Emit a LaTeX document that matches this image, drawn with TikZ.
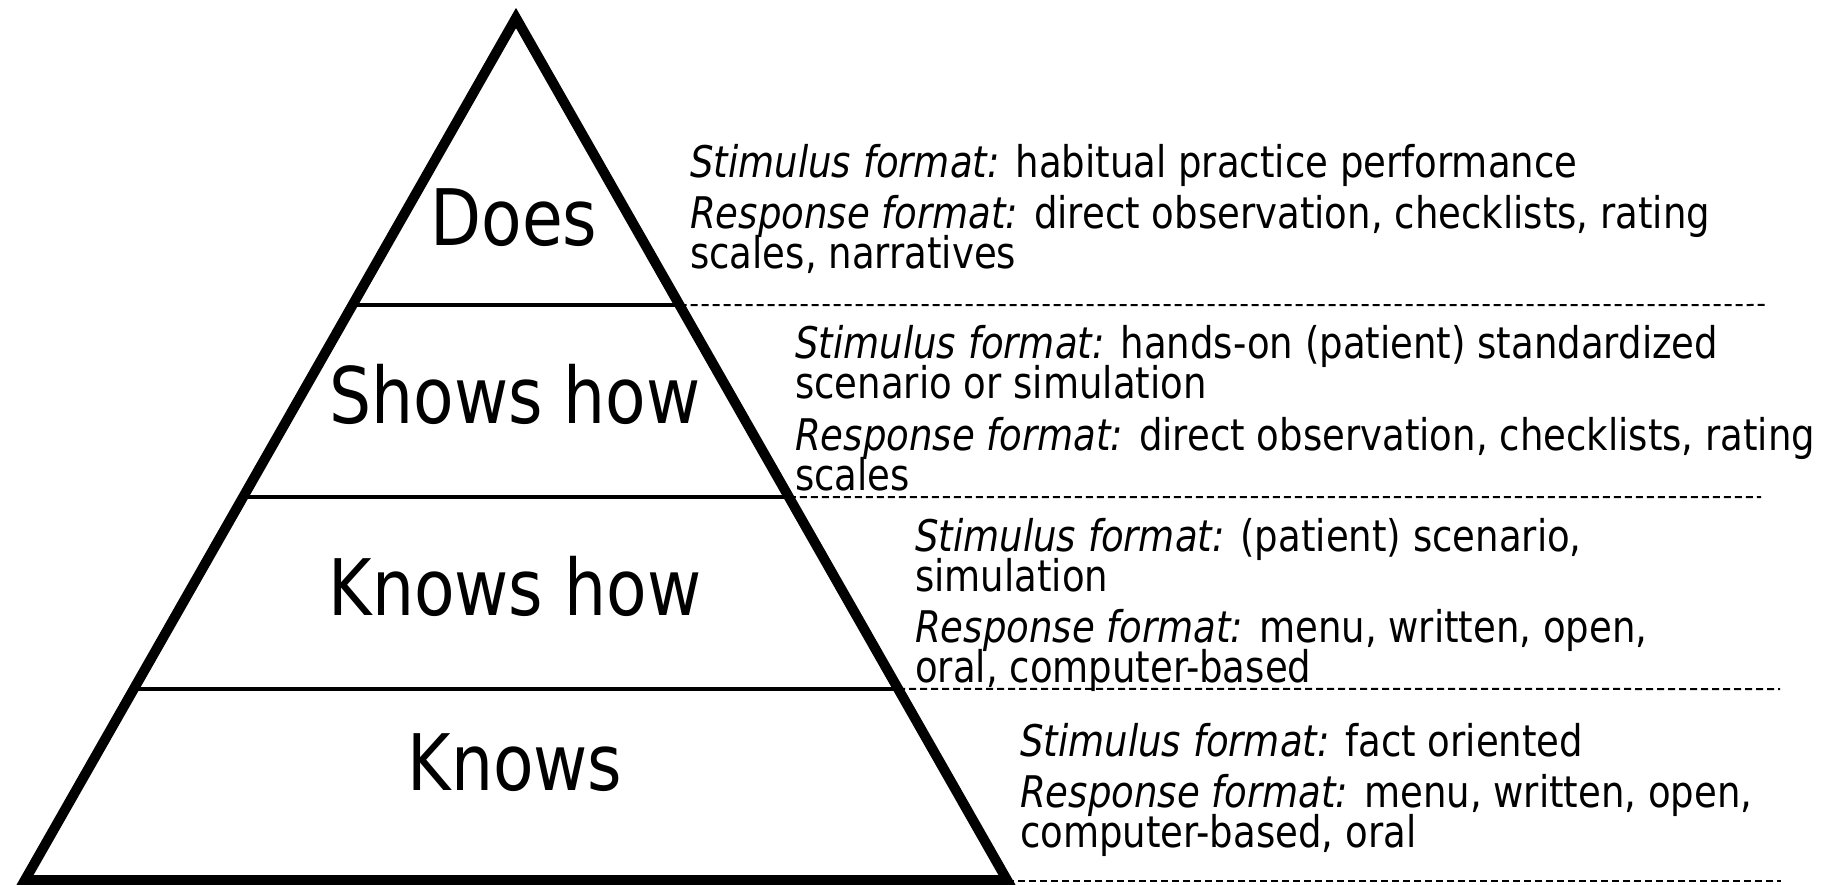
\documentclass[tikz,border=0pt]{standalone}
\usepackage{fontspec}
\setmainfont{DejaVu Sans}[FakeStretch=0.85]
\usetikzlibrary{calc}
\begin{document}
\begin{tikzpicture}[x=1pt,y=-1pt,
  big/.style={font=\fontsize{78}{78}\selectfont, anchor=base, inner sep=0pt},
  txt/.style={font=\fontsize{43.6}{40}\selectfont, anchor=base west, inner sep=0pt},
  tier/.style={line width=3.3pt},
  guide/.style={line width=2pt, dash pattern=on 7pt off 4pt},
  pyr/.style={line width=10pt, line join=miter}]
\useasboundingbox (0,0) rectangle (1829,885);
\coordinate (apex) at (516,18);
\coordinate (bl) at (25,880);
\coordinate (br) at (1007,880);
\coordinate (l1) at ($(apex)!0.3330!(bl)$);
\coordinate (r1) at ($(apex)!0.3330!(br)$);
\coordinate (l2) at ($(apex)!0.5557!(bl)$);
\coordinate (r2) at ($(apex)!0.5557!(br)$);
\coordinate (l3) at ($(apex)!0.7784!(bl)$);
\coordinate (r3) at ($(apex)!0.7784!(br)$);
\coordinate (e1) at (1767,305);
\coordinate (e2) at (1761,497);
\coordinate (e3) at (1780,689);
\coordinate (e4) at (1781,881);
\coordinate (b4) at (1007,881);
% dashed guides
\draw[guide] (r1) -- (e1);
\draw[guide] (r2) -- (e2);
\draw[guide] (r3) -- (e3);
\draw[guide] (b4) -- (e4);
% tier lines
\draw[tier] (l1) -- (r1);
\draw[tier] (l2) -- (r2);
\draw[tier] (l3) -- (r3);
% pyramid
\draw[pyr] (apex) -- (bl) -- (br) -- cycle;
% level labels
\node[big] (does) at (514,246) {Does};
\node[big] (shows) at (515,423) {Shows how};
\node[big] (knowshow) at (515,615) {Knows how};
\node[big] (knows) at (515,790) {Knows};
% block 1
\node[txt] (a1) at (690,178) {\textit{Stimulus format:} habitual practice performance};
\node[txt] (a2) at (690,229) {\textit{Response format:} direct observation, checklists, rating};
\node[txt] (a3) at (690,269) {scales, narratives};
% block 2
\node[txt] (b1) at (795,359) {\textit{Stimulus format:} hands-on (patient) standardized};
\node[txt] (b2) at (795,399) {scenario or simulation};
\node[txt] (b3) at (795,450) {\textit{Response format:} direct observation, checklists, rating};
\node[txt] (b4t) at (795,490) {scales};
% block 3
\node[txt] (c1) at (915,551) {\textit{Stimulus format:} (patient) scenario,};
\node[txt] (c2) at (915,591) {simulation};
\node[txt] (c3) at (915,642) {\textit{Response format:} menu, written, open,};
\node[txt] (c4) at (915,682) {oral, computer-based};
% block 4
\node[txt] (d1) at (1020,756) {\textit{Stimulus format:} fact oriented};
\node[txt] (d2) at (1020,807) {\textit{Response format:} menu, written, open,};
\node[txt] (d3) at (1020,847) {computer-based, oral};
\end{tikzpicture}
\end{document}
